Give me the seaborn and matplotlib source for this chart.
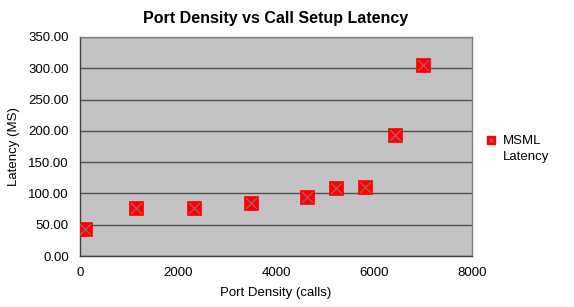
import matplotlib
matplotlib.use("Agg")
import matplotlib.pyplot as plt
import seaborn as sns
import pandas as pd
from matplotlib.lines import Line2D
from matplotlib.legend_handler import HandlerBase

port_density = [110, 1150, 2320, 3480, 4640, 5220, 5820, 6420, 7010]
latency = [42.5, 76.5, 77.5, 84.0, 95.0, 108.5, 110.5, 194.0, 306.0]
series_name = "MSML\nLatency"

df = pd.DataFrame({"Port Density (calls)": port_density, "Latency (MS)": latency})

sns.set_theme(style="white")
plt.rcParams['font.family'] = ['Liberation Sans', 'DejaVu Sans']
plt.rcParams['text.color'] = 'black'
plt.rcParams['axes.labelcolor'] = 'black'

fig = plt.figure(figsize=(5.74, 3.07), dpi=100)
ax = fig.add_axes([0.1394, 0.1661, 0.6829, 0.7134])
ax.set_facecolor("#c4c2c4")

sns.scatterplot(data=df, x="Port Density (calls)", y="Latency (MS)", ax=ax,
                marker="s", s=95, color="#ff0000", edgecolor="#ff0000", linewidth=0.5, zorder=3)
sns.scatterplot(data=df, x="Port Density (calls)", y="Latency (MS)", ax=ax,
                marker="x", s=60, color="#8a7a8a", linewidth=0.7, zorder=4)

ax.set_xlim(0, 8000)
ax.set_ylim(0, 350)
ax.set_xticks([0, 2000, 4000, 6000, 8000])
ax.set_yticks([0, 50, 100, 150, 200, 250, 300, 350])
ax.set_yticklabels([f"{v:.2f}" for v in [0, 50, 100, 150, 200, 250, 300, 350]])
ax.yaxis.grid(True, color="#505050", linewidth=1.0)
ax.set_axisbelow(True)
for s in ax.spines.values():
    s.set_color("#808080")
    s.set_linewidth(1.0)
ax.spines["left"].set_color("#404040")
ax.spines["bottom"].set_color("#404040")
ax.tick_params(axis="both", labelsize=9.5, colors="black", length=0, pad=8)
ax.set_xlabel("Port Density (calls)", fontsize=9.5, labelpad=6, color="black")
ax.set_ylabel("Latency (MS)", fontsize=9.5, labelpad=6, color="black")
ax.set_title("Port Density vs Call Setup Latency", fontsize=11.5, fontweight="bold", pad=10, color="black")


class TopMarkerHandler(HandlerBase):
    def create_artists(self, legend, orig_handle, xdescent, ydescent, width, height,
                       fontsize, trans):
        x = width / 2 - xdescent
        y = height / 2 - ydescent + 6.5
        sq = Line2D([x], [y], marker="s", color="#ff0000", markeredgecolor="#ff0000",
                    markersize=5.5, linestyle="none", transform=trans)
        cr = Line2D([x], [y], marker="x", color="#8a7a8a", markersize=3.5,
                    linestyle="none", markeredgewidth=0.6, transform=trans)
        return [sq, cr]


proxy = Line2D([], [], marker="s", color="#ff0000", linestyle="none")
leg = ax.legend([proxy], [series_name], loc="center left",
                bbox_to_anchor=(1.005, 0.49), frameon=False, fontsize=9.5,
                handlelength=0.8, handletextpad=0.5,
                handler_map={proxy: TopMarkerHandler()})
for t in leg.get_texts():
    t.set_linespacing(1.45)

fig.savefig("out.png", dpi=100)
